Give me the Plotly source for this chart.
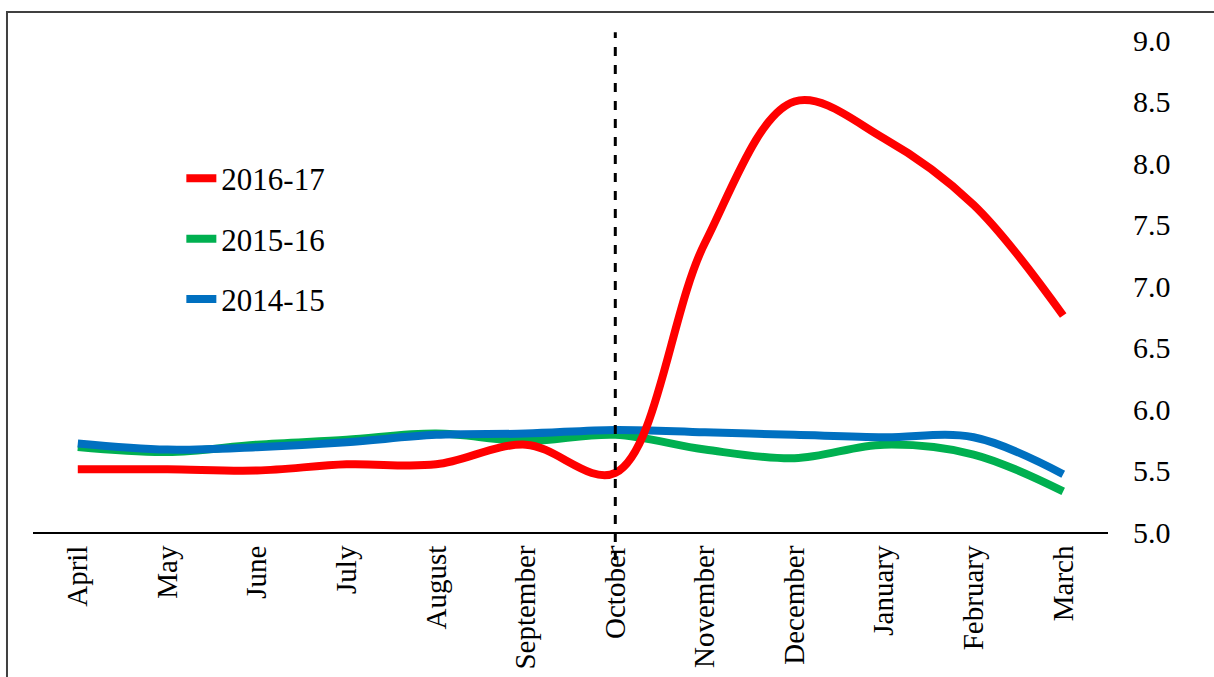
import plotly.graph_objects as go

months = ["April", "May", "June", "July", "August", "September",
          "October", "November", "December", "January", "February", "March"]

y_2016_17 = [5.51, 5.51, 5.50, 5.55, 5.55, 5.71, 5.48, 7.35, 8.50, 8.20, 7.66, 6.76]
y_2015_16 = [5.69, 5.65, 5.71, 5.75, 5.80, 5.74, 5.79, 5.67, 5.60, 5.71, 5.63, 5.33]
y_2014_15 = [5.72, 5.67, 5.69, 5.73, 5.79, 5.80, 5.83, 5.81, 5.79, 5.77, 5.77, 5.47]

y_ticks = [5.0, 5.5, 6.0, 6.5, 7.0, 7.5, 8.0, 8.5, 9.0]

font_name = "Liberation Serif"

fig = go.Figure()
# green under blue, red on top
series = [("2015-16", y_2015_16, "#00B050", 2),
          ("2014-15", y_2014_15, "#0070C0", 3),
          ("2016-17", y_2016_17, "#FF0000", 1)]
for name, vals, col, rank in series:
    fig.add_trace(go.Scatter(x=months, y=vals, name=name, mode="lines",
                             line=dict(color=col, width=8, shape="spline", smoothing=1.0),
                             legendgroup=name, legendrank=rank))

fig.update_layout(
    width=1214, height=677,
    margin=dict(l=33, r=106, t=40, b=145),
    paper_bgcolor="white", plot_bgcolor="white",
    font=dict(family=font_name, size=29, color="black"),
    showlegend=True,
    legend=dict(x=0.138, y=0.773, xanchor="left", yanchor="top",
                traceorder="grouped", tracegroupgap=17,
                font=dict(size=31), bgcolor="rgba(0,0,0,0)"),
    xaxis=dict(type="category", range=[-0.5, 11.5], showgrid=False,
               showline=True, linecolor="black", linewidth=2, automargin=False,
               ticks="", tickangle=-90, zeroline=False),
    yaxis=dict(range=[5, 9], side="right", tickvals=y_ticks, automargin=False,
               tickformat=".1f", showgrid=False, showline=False, zeroline=False,
               ticks="outside", ticklen=18, tickcolor="rgba(0,0,0,0)",
               tickfont=dict(size=30)),
)

# dashed vertical marker at October
fig.add_shape(type="line", xref="x", yref="paper", x0="October", x1="October",
              y0=-0.057, y1=1.016, line=dict(color="black", width=3, dash="dash"))

# outer frame of the chart box
fig.add_shape(type="rect", xref="paper", yref="paper",
              x0=-0.0242, x1=1.2, y0=-0.5, y1=1.0569,
              line=dict(color="#404040", width=2), layer="below")

# drop the browser's default 8px body margin so the figure sits at 0,0
fig.write_html("out.html", config={"displayModeBar": False},
               post_script="document.body.style.margin='0';")
